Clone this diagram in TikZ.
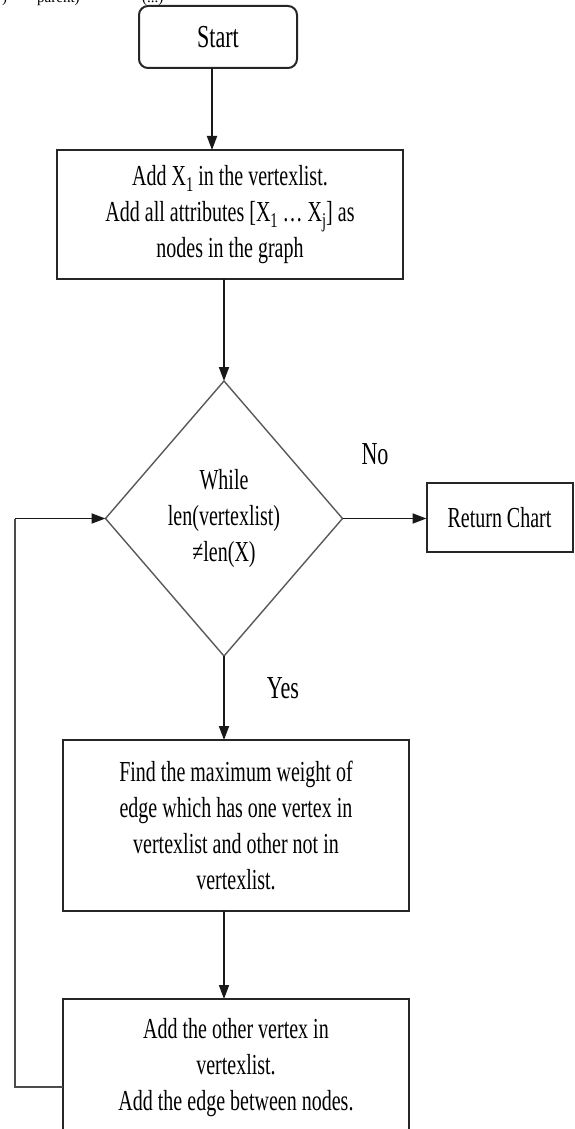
\documentclass[tikz,border=0pt]{standalone}
\usepackage{fontspec}
\usetikzlibrary{shapes.geometric,arrows.meta}
\newfontfamily\dfont[FakeStretch=0.69]{Liberation Serif}
\newfontfamily\tfont{Liberation Serif}
\newcommand\lowsub[1]{\raisebox{-0.22em}{\fontsize{21pt}{21pt}\selectfont #1}}
\tikzset{
  txt/.style={font=\dfont\fontsize{29pt}{36pt}\selectfont, align=center, inner sep=0pt, outer sep=0pt},
  big/.style={font=\dfont\fontsize{32pt}{36pt}\selectfont, inner sep=0pt, outer sep=0pt},
  procbox/.style={txt, draw=black!85, line width=2pt, rectangle},
  startbox/.style={big, draw=black!85, line width=2pt, rectangle, rounded corners=9pt},
  decbox/.style={txt, draw=black!65, line width=1.4pt, diamond, aspect=1},
  arr/.style={draw=black!90, line width=1.8pt, -{Triangle[length=14pt,width=10pt]}},
  loopline/.style={draw=black!70, line width=2pt},
}
\begin{document}
\begin{tikzpicture}[x=1pt,y=-1pt]
\useasboundingbox (0,0) rectangle (574,1129);
\clip (0,0) rectangle (574,1129);
% cut-off fragment at the top
\node[anchor=base west, inner sep=0pt, font=\tfont\fontsize{15pt}{15pt}\selectfont] (frag1) at (2,2.5) {)};
\node[anchor=base west, inner sep=0pt, font=\tfont\fontsize{15pt}{15pt}\selectfont] (frag2) at (37,2.5) {parent)};
\node[anchor=base west, inner sep=0pt, font=\tfont\fontsize{15pt}{15pt}\selectfont] (frag3) at (142,2.5) {(...)};
% nodes
\node[startbox, minimum width=158pt, minimum height=62pt] (start) at (218,37) {Start};
\node[procbox, minimum width=346pt, minimum height=129pt] (init) at (230,214.5)
  {Add X\lowsub{1} in the vertexlist.\\ Add all attributes [X\lowsub{1} … X\lowsub{j}] as\\ nodes in the graph};
\node[decbox, minimum width=237pt, minimum height=275pt] (cond) at (224,518.5)
  {While\\ len(vertexlist)\\ ≠len(X)};
\node[procbox, minimum width=146pt, minimum height=69pt] (ret) at (499.5,517.5) {Return Chart};
\node[procbox, minimum width=346pt, minimum height=171pt] (find) at (236,825.5)
  {Find the maximum weight of\\ edge which has one vertex in\\ vertexlist and other not in\\ vertexlist.};
\node[procbox, minimum width=346pt, minimum height=138pt] (add) at (236,1068)
  {Add the other vertex in\\ vertexlist.\\ Add the edge between nodes.};
\node[big] (nolbl) at (375,454) {No};
\node[big] (yeslbl) at (283,688) {Yes};
% connectors
\draw[arr] ([xshift=-6pt]start.south) -- ([xshift=-6pt]start.south |- init.north);
\draw[arr] (init.south -| cond.north) -- (cond.north);
\draw[arr] (cond.east) -- (cond.east -| ret.west);
\draw[arr] (cond.south) -- (cond.south |- find.north);
\draw[arr] (cond.south |- find.south) -- (cond.south |- add.north);
\coordinate (l1) at (15,1087);
\coordinate (l2) at (15,518.5);
\draw[loopline] (add.west |- l1) -- (l1) -- (l2);
\draw[arr] (l2) -- (cond.west);
\end{tikzpicture}
\end{document}
